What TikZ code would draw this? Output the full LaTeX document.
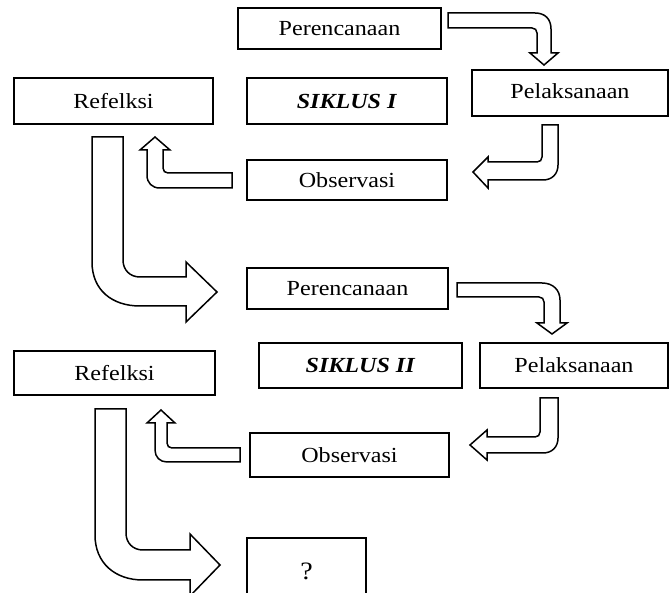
\documentclass[tikz,border=0pt]{standalone}
\usepackage{fontspec}
\setmainfont{Liberation Serif}[FakeStretch=1.12]
\begin{document}
\begin{tikzpicture}[x=1pt,y=-1pt,
  box/.style={draw=black,line width=1.8pt,fill=white,inner sep=0pt,font=\fontsize{21.5}{24}\selectfont},
  blockarrow/.style={draw=black,line width=1.5pt,fill=white,line join=miter}]
\useasboundingbox (0,0) rectangle (670,593);
% Siklus I
\node[box,minimum width=203,minimum height=41] (per1) at (339.5,28.5) {Perencanaan};
\node[box,minimum width=200,minimum height=46] (sik1) at (347,101) {\textbf{\textit{SIKLUS I}}};
\node[box,minimum width=196,minimum height=46] (pel1) at (570,93) {\raisebox{4pt}{Pelaksanaan}};
\node[box,minimum width=199,minimum height=46] (ref1) at (113.5,101) {Refelksi};
\node[box,minimum width=200,minimum height=40] (obs1) at (347,180) {Observasi};
% Siklus II
\node[box,minimum width=201,minimum height=41] (per2) at (347.5,288.5) {Perencanaan};
\node[box,minimum width=203,minimum height=45] (sik2) at (360.5,365.5) {\textbf{\textit{SIKLUS II}}};
\node[box,minimum width=188,minimum height=45] (pel2) at (574,365.5) {Pelaksanaan};
\node[box,minimum width=201,minimum height=44] (ref2) at (114.5,373) {Refelksi};
\node[box,minimum width=199,minimum height=44] (obs2) at (349.5,455) {Observasi};
\node[box,minimum width=119,minimum height=80] (q) at (306.5,578) {\raisebox{13pt}{\fontsize{25}{28}\selectfont ?}};
% arrows
\draw[blockarrow] (448,13) -- (535,13) .. controls (545,13) and (551,19) .. (551,29) -- (551,53) -- (558,53) -- (544,65) -- (530,53) -- (537,53) -- (537,33) .. controls (537,30) and (535,28) .. (532,28) -- (448,28) -- cycle;
\draw[blockarrow] (558,125) -- (558,165) .. controls (558,174) and (552,180) .. (543,180) -- (488,180) -- (488,188) -- (473,172) -- (488,157) -- (488,162) -- (537,162) .. controls (540,162) and (542,160) .. (542,157) -- (542,125) -- cycle;
\draw[blockarrow] (232,173) -- (168,173) .. controls (165,173) and (163,171) .. (163,168) -- (163,150) -- (170,150) -- (155,137) -- (140,150) -- (147,150) -- (147,175) .. controls (147,183) and (152,188) .. (160,188) -- (232,188) -- cycle;
\draw[blockarrow] (123,137) -- (123,260) .. controls (123,270) and (130,277) .. (140,277) -- (186,277) -- (186,262) -- (217,292) -- (186,322) -- (186,306) -- (140,306) .. controls (112,306) and (92,290) .. (92,262) -- (92,137) -- cycle;
\draw[blockarrow] (457,283) -- (542,283) .. controls (553,283) and (560,290) .. (560,300) -- (560,323) -- (567,323) -- (552,334) -- (537,323) -- (544,323) -- (544,302) .. controls (544,299) and (542,297) .. (539,297) -- (457,297) -- cycle;
\draw[blockarrow] (558,398) -- (558,438) .. controls (558,447) and (552,453) .. (543,453) -- (487,453) -- (487,460) -- (470,445) -- (487,430) -- (487,437) -- (535,437) .. controls (538,437) and (540,435) .. (540,432) -- (540,398) -- cycle;
\draw[blockarrow] (240,448) -- (172,448) .. controls (169,448) and (167,446) .. (167,443) -- (167,423) -- (175,423) -- (161,410) -- (147,423) -- (155,423) -- (155,450) .. controls (155,457) and (160,462) .. (167,462) -- (240,462) -- cycle;
\draw[blockarrow] (126,409) -- (126,533) .. controls (126,543) and (133,550) .. (143,550) -- (190,550) -- (190,534) -- (220,565) -- (190,596) -- (190,580) -- (143,580) .. controls (115,580) and (95,563) .. (95,535) -- (95,409) -- cycle;
\end{tikzpicture}
\end{document}
